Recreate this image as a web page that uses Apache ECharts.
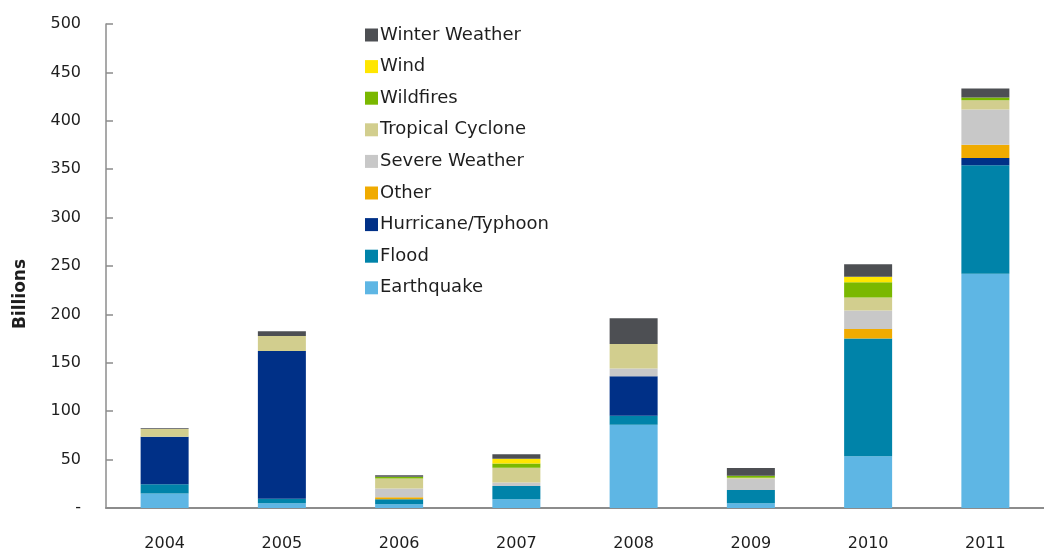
<!DOCTYPE html>
<html>
<head>
<meta charset="utf-8" />
<title>Losses by peril</title>
<script src="https://cdn.jsdelivr.net/npm/echarts@6/dist/echarts.min.js"></script>
<style>
  html, body { margin: 0; padding: 0; background: #fff; }
  #chart { width: 1044px; height: 552px; }
</style>
</head>
<body>
<div id="chart"></div>
<script>
// 年份
const years = ["2004", "2005", "2006", "2007", "2008", "2009", "2010", "2011"];

// 各灾害类型（单位：十亿）
const earthquake = [15, 5, 4, 9, 86, 5, 53.5, 242];
const flood = [9.5, 4.5, 5, 13.7, 9.2, 13.7, 121.5, 112];
const hurricane = [49, 152.6, 0, 0, 41, 0, 0, 7.6];
const other = [0, 0, 2, 0, 0, 0, 10, 13.6];
const severeWeather = [0, 0, 9.2, 3.7, 7.8, 11.6, 19.1, 36.6];
const tropicalCyclone = [8, 15.5, 10.2, 15.1, 25.3, 1, 13.3, 9.5];
const wildfires = [0, 0, 1.8, 4.4, 0, 2.1, 15.7, 2.8];
const wind = [0, 0, 0, 5.1, 0, 0, 5.8, 0];
const winterWeather = [1, 5, 1.7, 4.5, 26.6, 7.9, 12.9, 9.2];

const yTicks = ["-", "50", "100", "150", "200", "250", "300", "350", "400", "450", "500"];

const seriesDefs = [
  { name: "Earthquake", data: earthquake, color: "#5EB6E4" },
  { name: "Flood", data: flood, color: "#0083A9" },
  { name: "Hurricane/Typhoon", data: hurricane, color: "#003087" },
  { name: "Other", data: other, color: "#F0AB00" },
  { name: "Severe Weather", data: severeWeather, color: "#C8C8C8" },
  { name: "Tropical Cyclone", data: tropicalCyclone, color: "#D2CE8E" },
  { name: "Wildfires", data: wildfires, color: "#7AB800" },
  { name: "Wind", data: wind, color: "#FFE600" },
  { name: "Winter Weather", data: winterWeather, color: "#4D4F53" }
];

const font = "'DejaVu Sans', 'Liberation Sans', Arial, sans-serif";
const textColor = "#1e1e1e";
const axisColor = "#8c8c8c";

const myChart = echarts.init(document.getElementById("chart"), null, { renderer: "canvas" });

const option = {
  animation: false,
  backgroundColor: "#fff",
  textStyle: { fontFamily: font },
  grid: { left: 106, top: 24, width: 945, height: 487, containLabel: false },
  legend: {
    orient: "vertical",
    left: 360,
    top: 20,
    data: seriesDefs.map(s => s.name).reverse(),
    icon: "rect",
    itemWidth: 13,
    itemHeight: 13,
    itemGap: 11.6,
    selectedMode: false,
    textStyle: { fontFamily: font, fontSize: 18, color: textColor, lineHeight: 20, padding: [0, 0, 0, -3] }
  },
  xAxis: {
    type: "category",
    data: years,
    axisLine: { lineStyle: { color: axisColor, width: 2 } },
    axisTick: { inside: true, length: 6, lineStyle: { color: axisColor, width: 2 } },
    axisLabel: { fontFamily: font, fontSize: 16, color: textColor, margin: 28 }
  },
  yAxis: {
    type: "value",
    min: 0,
    max: 500,
    interval: 50,
    name: "Billions",
    nameLocation: "middle",
    nameGap: 77,
    nameTextStyle: {
      fontFamily: font,
      fontSize: 17,
      fontWeight: "bold",
      color: textColor,
      padding: [0, 56, 0, 0]
    },
    axisLine: { show: true, lineStyle: { color: axisColor, width: 1.5 } },
    axisTick: { show: true, inside: true, length: 7, lineStyle: { color: axisColor, width: 1.5 } },
    splitLine: { show: false },
    axisLabel: {
      fontFamily: font,
      fontSize: 16,
      color: textColor,
      margin: 25,
      formatter: (v) => yTicks[Math.round(v / 50)]
    }
  },
  series: seriesDefs.map(s => ({
    name: s.name,
    type: "bar",
    stack: "total",
    barWidth: 48,
    data: s.data,
    itemStyle: { color: s.color }
  }))
};

myChart.setOption(option);
</script>
</body>
</html>
